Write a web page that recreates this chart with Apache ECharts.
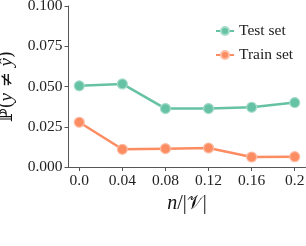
<!DOCTYPE html>
<html><head><meta charset="utf-8">
<script src="https://cdn.jsdelivr.net/npm/echarts@6/dist/echarts.min.js"></script>
<style>html,body{margin:0;padding:0;background:#fff}#c{width:306px;height:246px}</style>
</head><body><div id="c"></div>
<script>
const xValues = [0.0, 0.04, 0.08, 0.12, 0.16, 0.2];
const xTickLabels = ["0.0", "0.04", "0.08", "0.12", "0.16", "0.2"];
const testSet = [0.0504, 0.0516, 0.0363, 0.0363, 0.0371, 0.0400];
const trainSet = [0.0278, 0.0110, 0.0114, 0.0118, 0.0062, 0.0064];
const seriesNames = ["Test set", "Train set"];
const colors = ["#66c2a5", "#fc8d62"];
const borderColors = ["#a6dcc9", "#fdbca3"];

const font = "'Liberation Serif', 'DejaVu Serif', serif";
const chart = echarts.init(document.getElementById('c'), null, {renderer: 'canvas'});
function mk(name, vals, i) {
  return {
    name: name, type: 'line',
    data: xValues.map((x, k) => [x, vals[k]]),
    symbol: 'circle', symbolSize: 10,
    lineStyle: {color: colors[i], width: 2.5},
    itemStyle: {color: colors[i], borderColor: borderColors[i], borderWidth: 1.2},
    emphasis: {disabled: true}
  };
}
chart.setOption({
  animation: false,
  textStyle: {fontFamily: font},
  grid: {left: 68.5, right: 0.5, top: 6, bottom: 79, containLabel: false, outerBoundsMode: 'none'},
  legend: {
    orient: 'vertical', left: 210, top: 18, itemWidth: 18, itemHeight: 10, itemGap: 8,
    textStyle: {fontFamily: font, fontSize: 15.5, color: '#222', lineHeight: 15},
    data: seriesNames
  },
  xAxis: {
    type: 'value', min: -0.01, max: 0.21,
    name: '{i|n}{r|/|}{c|𝒱}{r||}', nameLocation: 'middle', nameGap: 27,
    nameTextStyle: {fontFamily: font, fontSize: 20, color: '#111',
      rich: {i: {fontFamily: font, fontSize: 20, fontStyle: 'italic', color: '#111'},
             r: {fontFamily: font, fontSize: 20, color: '#111'},
             c: {fontFamily: "'DejaVu Serif', serif", fontSize: 19, color: '#111'}}},
    axisLine: {show: true, onZero: false, lineStyle: {color: '#555', width: 1}},
    axisTick: {show: true, length: 4, lineStyle: {color: '#555'}, customValues: xValues},
    axisLabel: {customValues: xValues, margin: 6, fontFamily: font, fontSize: 15.5, color: '#222',
      formatter: v => { const k = xValues.findIndex(x => Math.abs(x - v) < 1e-9); return k >= 0 ? xTickLabels[k] : ''; }},
    splitLine: {show: false}
  },
  yAxis: {
    type: 'value', min: 0, max: 0.1, interval: 0.025,
    name: '{r|ℙ(}{i|y}{r| ≠ }{i|ŷ}{r|)}', nameLocation: 'middle', nameGap: 43,
    nameTextStyle: {fontFamily: font, fontSize: 19, color: '#111',
      rich: {i: {fontFamily: font, fontSize: 19, fontStyle: 'italic', color: '#111'},
             r: {fontFamily: "'DejaVu Serif', serif", fontSize: 18, color: '#111'}}},
    axisLine: {show: true, onZero: false, lineStyle: {color: '#555', width: 1}},
    axisTick: {show: true, length: 4, lineStyle: {color: '#555'}},
    axisLabel: {margin: 6, fontFamily: font, fontSize: 15.5, color: '#222', formatter: v => v.toFixed(3)},
    splitLine: {show: false}
  },
  series: [mk(seriesNames[0], testSet, 0), mk(seriesNames[1], trainSet, 1)]
});
</script></body></html>
